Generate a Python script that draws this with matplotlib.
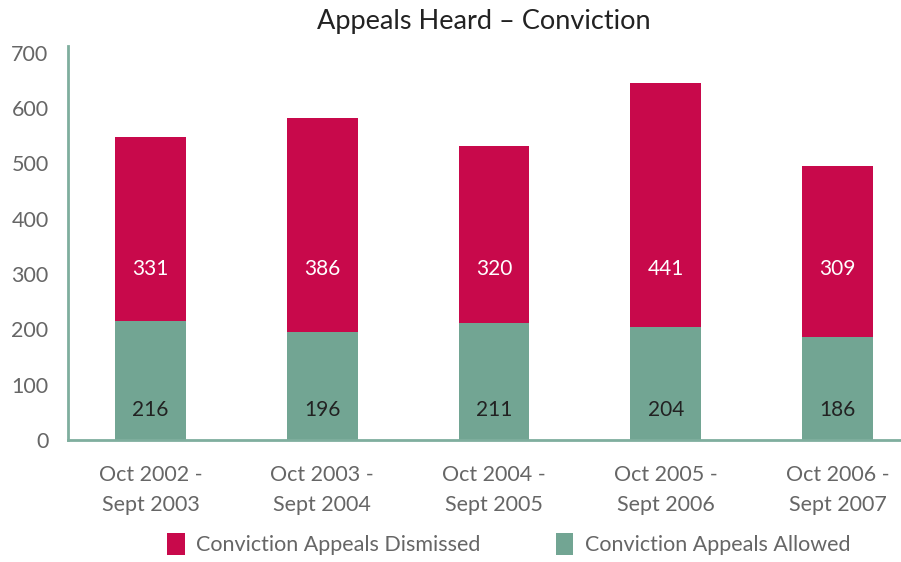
import matplotlib
matplotlib.use('Agg')
import matplotlib.pyplot as plt
import numpy as np

plt.rcParams['font.family'] = ['Lato', 'DejaVu Sans']

periods = ['Oct 2002 -\nSept 2003', 'Oct 2003 -\nSept 2004', 'Oct 2004 -\nSept 2005',
           'Oct 2005 -\nSept 2006', 'Oct 2006 -\nSept 2007']
allowed = [216, 196, 211, 204, 186]
dismissed = [331, 386, 320, 441, 309]

green = '#72A593'
crimson = '#C8094B'
grey = '#666666'

fig = plt.figure(figsize=(9.01, 5.62), dpi=100)
ax = fig.add_axes([0.0755, 0.217, 0.9235, 0.701])

x = np.arange(len(periods))
w = 0.413
ax.bar(x, allowed, w, color=green, label='Conviction Appeals Allowed')
ax.bar(x, dismissed, w, bottom=allowed, color=crimson, label='Conviction Appeals Dismissed')

# value labels sit at fixed heights like the original
for i in range(len(x)):
    ax.text(x[i], 310, str(dismissed[i]), ha='center', va='center', color='white', fontsize=15)
    ax.text(x[i], 54, str(allowed[i]), ha='center', va='center', color='#222222', fontsize=15)

ax.set_xlim(-0.48, 4.364)
ax.set_ylim(0, 712)
ax.set_yticks(range(0, 701, 100))
ax.set_xticks(x)
ax.set_xticklabels(periods)
ax.tick_params(axis='both', length=0, labelsize=15.5, colors=grey)
ax.tick_params(axis='x', pad=18)
ax.tick_params(axis='y', pad=14)
for lab in ax.get_xticklabels():
    lab.set_linespacing(1.6)

for s in ['top', 'right']:
    ax.spines[s].set_visible(False)
for s in ['left', 'bottom']:
    ax.spines[s].set_color('#7FAE9E')
    ax.spines[s].set_linewidth(2)

ax.set_title('Appeals Heard \u2013 Conviction', fontsize=19.5, color='#222222', pad=12)

handles, labels = ax.get_legend_handles_labels()
fig.legend(handles[::-1], labels[::-1], loc='center', bbox_to_anchor=(0.565, 0.032), ncol=2,
           frameon=False, fontsize=15.5, labelcolor=grey, handlelength=0.8, handleheight=1.2,
           handletextpad=0.55, columnspacing=3.5)

fig.savefig('out.png', dpi=100)
